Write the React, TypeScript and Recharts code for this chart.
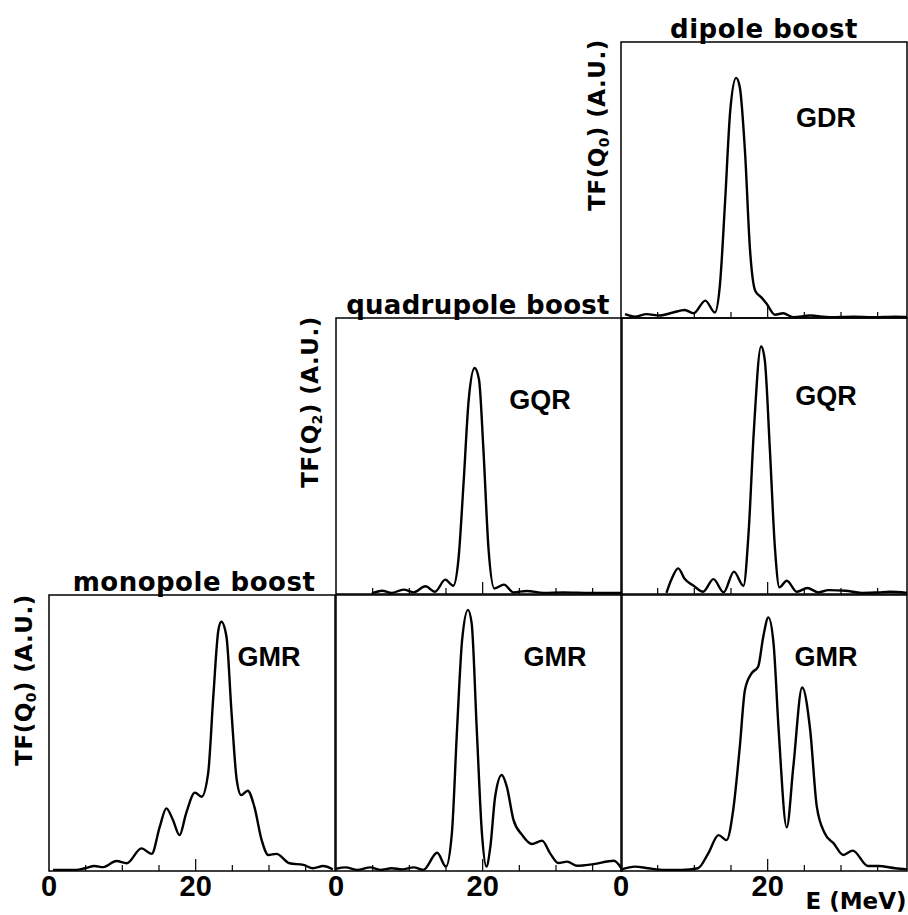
import { LineChart, Line, XAxis, YAxis, ReferenceArea } from 'recharts';

// Energy (MeV) and strength (A.U., 100 = top of panel)

// dipole boost -> GDR (top right)
const dipGdrE = [0.55, 1.9, 3.5, 5.3, 7.1, 8.7, 9.9, 11.5, 12.8, 13.5, 14.2, 14.9, 15.7, 16.2, 16.9, 17.6, 18.3, 19.2, 19.9, 21.0, 22.1, 23.5, 25.8, 28.5, 31.7, 34.4, 37.4, 39];
const dipGdrV = [1.4, 0.5, 1.4, 0.9, 2.0, 2.9, 1.7, 6.3, 2.0, 12.3, 42.5, 75.2, 87, 83.6, 60.7, 24.4, 9.9, 7.3, 5.0, 1.2, 1.7, 0.3, 0.9, 0.3, 0.5, 0.3, 0.5, 0.4];

// quadrupole boost -> GQR
const quadGqrE = [4.9, 6.3, 7.6, 9.2, 10.6, 12.2, 13.5, 14.9, 16.0, 16.7, 17.4, 18.1, 18.9, 19.5, 20.1, 20.8, 21.6, 22.9, 24.2, 26.0, 28.3, 31.0, 34.7, 37.9, 39];
const quadGqrV = [0.2, 1.2, 0.4, 1.6, 0.6, 2.8, 0.8, 5.2, 3.0, 12.6, 40.4, 70.5, 81.9, 77.7, 52.4, 16.3, 2.0, 3.4, 0.6, 1.1, 0.4, 0.6, 0.4, 0.4, 0.4];

// dipole boost -> GQR
const dipGqrE = [6.2, 6.9, 7.8, 8.7, 9.9, 11.2, 12.6, 14.0, 15.4, 16.7, 17.4, 18.1, 19.1, 19.6, 20.3, 21.0, 21.6, 22.6, 24.0, 25.4, 26.9, 28.3, 30.6, 32.8, 35.1, 36.7, 39];
const dipGqrV = [0.4, 5.4, 9.3, 5.4, 3.0, 0.8, 5.4, 0.6, 8.1, 3.0, 22.3, 58.4, 89.7, 84.9, 52.4, 16.3, 2.4, 4.8, 0.8, 2.2, 0.6, 1.4, 1.2, 0.4, 0.6, 0.8, 0.4];

// monopole boost -> GMR
const monoGmrE = [0.55, 3.7, 4.9, 6.2, 7.4, 9.2, 10.6, 12.6, 14.0, 15.1, 16.0, 16.9, 17.8, 18.7, 19.9, 20.8, 21.7, 22.4, 23.1, 23.5, 24.2, 24.9, 25.6, 26.2, 27.1, 28.0, 29.0, 29.9, 31.0, 32.8, 34.7, 36.0, 37.4, 38.7];
const monoGmrV = [0.4, 0.4, 1.0, 1.8, 1.4, 3.6, 2.8, 8.2, 6.2, 16, 22.7, 18.5, 13, 20.9, 28.4, 26.9, 35.4, 63, 87.3, 90.3, 84.9, 57, 33, 27.5, 29.1, 23.3, 11.2, 5.8, 6.2, 2.8, 2.2, 1.0, 1.8, 0.6];

// quadrupole boost -> GMR
const quadGmrE = [0, 1.3, 2.9, 4.7, 6.0, 7.6, 9.0, 10.6, 11.9, 13.8, 15.0, 15.8, 16.5, 17.2, 18.0, 18.5, 19.2, 19.9, 20.5, 21.05, 21.7, 22.6, 23.3, 24.2, 25.4, 26.7, 28.1, 29.2, 30.3, 31.5, 32.9, 35.1, 37.9, 39];
const quadGmrV = [0.8, 1.3, 0.4, 1.3, 0.4, 1.0, 0.6, 1.3, 0.4, 6.6, 1.6, 13.6, 51, 83.7, 94.6, 89.7, 51, 13.6, 1.6, 8.8, 26.9, 34.8, 30.5, 18.5, 13, 9.8, 11, 6.4, 2.9, 3.4, 1.9, 2.5, 3.7, 0.6];

// dipole boost -> GMR
const dipGmrE = [0.1, 1.9, 3.7, 6.0, 8.3, 10.5, 11.9, 13.3, 14.4, 15.3, 16.2, 16.9, 17.8, 18.7, 19.4, 20.1, 20.8, 21.5, 22.6, 23.5, 24.7, 25.8, 26.7, 27.8, 29.0, 30.3, 31.6, 33.7, 35.1, 37.4, 39];
const dipGmrV = [0.6, 1.6, 1.0, 0.4, 0.4, 1.0, 6.4, 13, 11.2, 22.1, 45, 65.6, 71.6, 74, 84.9, 91.9, 82.5, 51, 15.8, 37.8, 66.5, 51, 23.3, 13.6, 10, 5.8, 7.4, 1.8, 1.8, 1.0, 0.6];

const xTicks = [0, 5, 10, 15, 20, 25, 30, 35];
const labelledTicks = [0, 20];

const zip = (e: number[], v: number[]) => e.map((x, i) => ({ e: x, v: v[i] }));

const PW = 286;
const PH = 276;
const PAD = 24;
const AXIS_H = 40;
const E_MAX = 39;

const renderTick = (showLabels: boolean) => (props: any) => {
  const { x, y, payload } = props;
  const val = payload.value;
  const len = val === 20 ? 12 : 6;
  return (
    <g>
      {val > 0 && <line x1={x} x2={x} y1={y} y2={y - len} stroke="#000" strokeWidth={1.2} />}
      {showLabels && labelledTicks.includes(val) && (
        <text
          x={x}
          y={y + 25}
          textAnchor="middle"
          fontFamily="Liberation Sans, Arial, sans-serif"
          fontWeight="bold"
          fontSize={29}
          fill="#000"
        >
          {val}
        </text>
      )}
    </g>
  );
};

function Panel({ e, v, left, top, labels }: { e: number[]; v: number[]; left: number; top: number; labels?: boolean }) {
  return (
    <div style={{ position: 'absolute', left: left - PAD, top: top - PAD }}>
      <LineChart
        width={PW + 2 * PAD}
        height={PH + PAD + AXIS_H}
        data={zip(e, v)}
        margin={{ top: PAD, right: PAD, left: PAD, bottom: 0 }}
      >
        <XAxis
          type="number"
          dataKey="e"
          domain={[0, E_MAX]}
          ticks={xTicks}
          interval={0}
          height={AXIS_H}
          axisLine={false}
          tickLine={false}
          tickSize={0}
          tickMargin={0}
          allowDataOverflow
          tick={renderTick(!!labels)}
        />
        <YAxis hide domain={[0, 100]} />
        <Line type="monotone" dataKey="v" stroke="#000" strokeWidth={2.4} dot={false} isAnimationActive={false} />
        <ReferenceArea x1={0} x2={E_MAX} y1={0} y2={100} fill="none" stroke="#000" strokeWidth={1.5} />
      </LineChart>
    </div>
  );
}

const titleFont = { fontFamily: 'DejaVu Sans, sans-serif', fontWeight: 'bold' as const, color: '#000', whiteSpace: 'nowrap' as const, lineHeight: 1 };

function Txt({ x, y, size, rotate, family, spacing, children }: any) {
  return (
    <div
      style={{
        ...titleFont,
        fontFamily: family || titleFont.fontFamily,
        position: 'absolute',
        left: x,
        top: y,
        fontSize: size,
        letterSpacing: spacing || 0,
        transform: `translate(-50%, -50%)${rotate ? ' rotate(-90deg)' : ''}`,
      }}
    >
      {children}
    </div>
  );
}

const sub = (s: string) => <sub style={{ fontSize: '0.6em', verticalAlign: '-0.25em' }}>{s}</sub>;

export default function App() {
  const cols = [49, 335.5, 621];
  const rows = [42, 318, 595];
  return (
    <div style={{ position: 'absolute', left: 0, top: 0, width: 908, height: 915, background: '#fff', overflow: 'hidden' }}>
      <Panel e={dipGdrE} v={dipGdrV} left={cols[2]} top={rows[0]} />
      <Panel e={quadGqrE} v={quadGqrV} left={cols[1]} top={rows[1]} />
      <Panel e={dipGqrE} v={dipGqrV} left={cols[2]} top={rows[1]} />
      <Panel e={monoGmrE} v={monoGmrV} left={cols[0]} top={rows[2]} labels />
      <Panel e={quadGmrE} v={quadGmrV} left={cols[1]} top={rows[2]} labels />
      <Panel e={dipGmrE} v={dipGmrV} left={cols[2]} top={rows[2]} labels />

      <Txt x={764} y={29} size={26} spacing={0.5}>dipole boost</Txt>
      <Txt x={478} y={305} size={26} spacing={0.3}>quadrupole boost</Txt>
      <Txt x={194} y={582} size={26} spacing={0.5}>monopole boost</Txt>

      <Txt x={599} y={125} size={23} spacing={0.5} rotate>TF(Q{sub('0')}) (A.U.)</Txt>
      <Txt x={312} y={402} size={23} spacing={0.5} rotate>TF(Q{sub('2')}) (A.U.)</Txt>
      <Txt x={26} y={680} size={23} spacing={0.5} rotate>TF(Q{sub('0')}) (A.U.)</Txt>

      <Txt x={826} y={118} size={27} family="Liberation Sans, Arial, sans-serif">GDR</Txt>
      <Txt x={540} y={400} size={27} family="Liberation Sans, Arial, sans-serif">GQR</Txt>
      <Txt x={826} y={396} size={27} family="Liberation Sans, Arial, sans-serif">GQR</Txt>
      <Txt x={269} y={657} size={27} family="Liberation Sans, Arial, sans-serif">GMR</Txt>
      <Txt x={555} y={657} size={27} family="Liberation Sans, Arial, sans-serif">GMR</Txt>
      <Txt x={826} y={657} size={27} family="Liberation Sans, Arial, sans-serif">GMR</Txt>

      <Txt x={856} y={901} size={23}>E (MeV)</Txt>
    </div>
  );
}
